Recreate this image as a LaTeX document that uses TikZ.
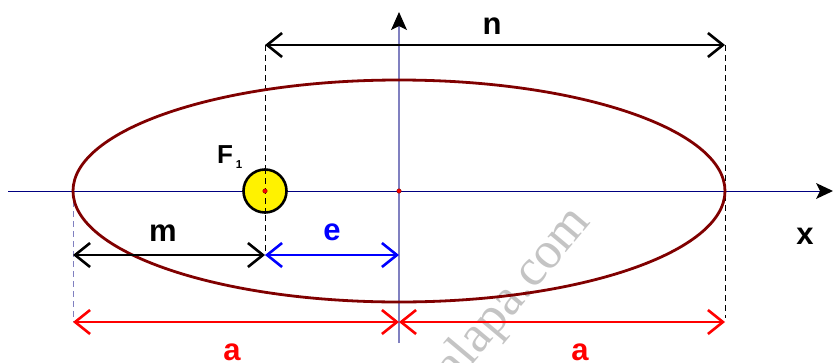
\documentclass[tikz,border=0pt]{standalone}
\usepackage{fontspec}
\setmainfont{Liberation Sans}
\newfontfamily\wmfont{Liberation Serif}
\usetikzlibrary{arrows.meta,calc}
\definecolor{ellred}{HTML}{800000}
\definecolor{axnavy}{HTML}{000080}
\definecolor{axlav}{HTML}{8080C0}
\definecolor{vblue}{HTML}{0000FF}
\definecolor{vred}{HTML}{FF0000}
\definecolor{wmgray}{HTML}{C4C4C4}
\tikzset{
  dim/.style={line width=2.6pt,{Straight Barb[length=15pt,width=24pt,line width=2.6pt]}-{Straight Barb[length=15pt,width=24pt,line width=2.6pt]}},
  guide/.style={line width=0.9pt,dash pattern=on 6pt off 4pt},
  lbl/.style={font=\bfseries\fontsize{31}{31}\selectfont,inner sep=0pt,anchor=base},
  dot/.style={circle,fill=red,draw=ellred,line width=0.4pt,inner sep=0pt,minimum size=4.5pt}
}
\begin{document}
\begin{tikzpicture}[x=1pt,y=-1pt]
\useasboundingbox (0,0) rectangle (833,362);
% key points
\coordinate (O) at (399,191);
\coordinate (F) at (265,191);
\coordinate (A1) at (73,191);
\coordinate (A2) at (725,191);
\coordinate (Xs) at (8,191);
\coordinate (Xe) at (833,191);
\coordinate (Ys) at (399,343);
\coordinate (Ye) at (399,12);
\coordinate (Ntop1) at (265,45);
\coordinate (Ntop2) at (725,45);
\coordinate (Fbot) at (265,255);
\coordinate (Mleft) at (73,255);
\coordinate (Eright) at (399,255);
\coordinate (Aleft) at (73,322);
\coordinate (Amid) at (399,322);
\coordinate (Aright) at (725,322);
\coordinate (A2bot) at (725,318);
% watermark
\node[text=wmgray,font=\wmfont\fontsize{52}{52}\selectfont,rotate=50,anchor=base east,inner sep=0pt] (wm) at (592,222) {alapa.com};
% guides
\draw[guide,black] (Ntop1) -- (Fbot);
\draw[guide,black] (Ntop2) -- (A2bot);
\draw[guide,axlav] (A1) -- (Aleft);
% axes
\draw[axnavy,line width=0.9pt] (Xs) -- ($(Xe)+(-10,0)$);
\draw[axlav,line width=1.1pt] (Ys) -- (O) -- ($(Ye)+(0,14)$);
\fill[black] (Xe) -- ++(-17,-8) -- ++(4,8) -- ++(-4,8) -- cycle;
\fill[black] (Ye) -- ++(-8,18) -- ++(8,-4) -- ++(8,4) -- cycle;
% ellipse
\draw[ellred,line width=2.8pt] (O) ellipse [x radius=326, y radius=111];
% focus
\node[circle,draw=black,fill=yellow,line width=2.6pt,minimum size=43pt,inner sep=0pt] (Fc) at (F) {};
\draw[guide,black] (Fc.north) -- (Fc.south);
\node[dot] (dF) at (F) {};
\node[dot] (dO) at (O) {};
% dimension arrows
\draw[dim,black] (Ntop1) -- (Ntop2);
\draw[dim,black] (Mleft) -- (Fbot);
\draw[dim,vblue] (Fbot) -- (Eright);
\draw[dim,vred] (Aleft) -- (Amid);
\draw[dim,vred] (Amid) -- (Aright);
% labels
\node[lbl] (ln) at (492,34) {n};
\node[lbl] (lm) at (163,241.5) {m};
\node[lbl,text=vblue] (le) at (332,240) {e};
\node[lbl,text=vred] (la1) at (232,360) {a};
\node[lbl,text=vred] (la2) at (580,360) {a};
\node[lbl] (lx) at (805,244) {x};
\node[font=\bfseries\fontsize{26}{26}\selectfont,inner sep=0pt,anchor=base] (lF) at (225,163.5) {F};
\node[font=\bfseries\fontsize{11.5}{11.5}\selectfont,inner sep=0pt,anchor=base] (l1) at (239,168) {1};
\end{tikzpicture}
\end{document}
